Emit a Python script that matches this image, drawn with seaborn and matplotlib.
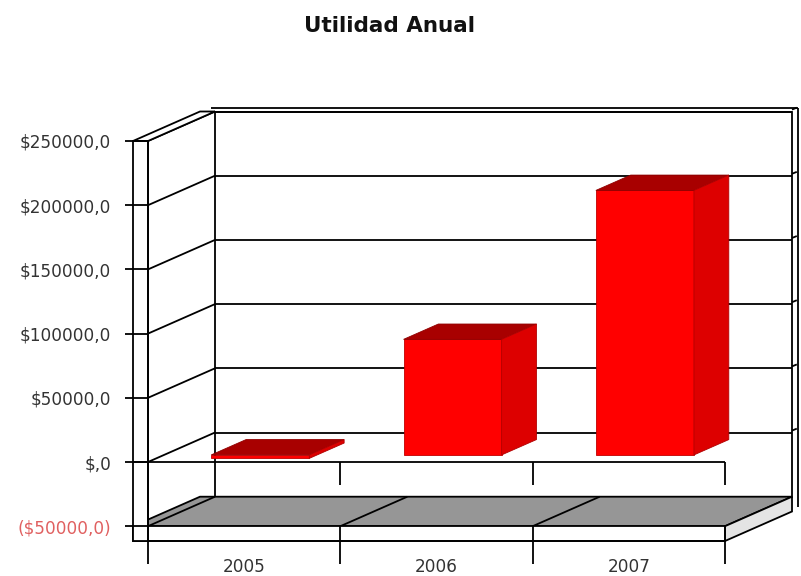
import numpy as np
import pandas as pd
import matplotlib
matplotlib.use("Agg")
import matplotlib.pyplot as plt
import seaborn as sns
from matplotlib.patches import Polygon
from matplotlib.transforms import Affine2D

# ---------------- data ----------------
years = ["2005", "2006", "2007"]
utilidad = [-2700, 90000, 206000]
y_ticks = [-50000, 0, 50000, 100000, 150000, 200000, 250000]
y_tick_labels = ["($50000,0)", "$,0", "$50000,0", "$100000,0",
                 "$150000,0", "$200000,0", "$250000,0"]
title = "Utilidad Anual"

# ---------------- style ----------------
sns.set_style("white")
plt.rcParams["font.family"] = ["DejaVu Sans"]

W, H = 801, 576
fig = plt.figure(figsize=(W / 100, H / 100), dpi=100)
fig.patch.set_facecolor("white")

# front-plane geometry (pixels)
ax_l, ax_r, ax_t, ax_b = 148, 725, 141, 541
zero_px = 462
ax = fig.add_axes([ax_l / W, (H - ax_b) / H, (ax_r - ax_l) / W, (ax_b - ax_t) / H])

YMAX = y_ticks[-1]
px_per_unit = (zero_px - ax_t) / YMAX
YMIN = -(ax_b - zero_px) / px_per_unit
cat_px = (ax_r - ax_l) / len(years)

DX = 67 / cat_px            # depth offset in category units
DY = 29.5 / px_per_unit     # depth offset in value units
WALL = 15 / cat_px          # wall thickness
TK = 23 / px_per_unit       # tick length in value units
FLOOR = y_ticks[0]

df = pd.DataFrame({"Año": years, "Utilidad": utilidad})
sns.barplot(data=df, x="Año", y="Utilidad", color="#FF0000", saturation=1,
            width=0.51, ax=ax, zorder=6, edgecolor="#C00000", linewidth=0.6)
bars = list(ax.patches)

ax.set_xlim(-0.5, len(years) - 0.5)
ax.set_ylim(YMIN, YMAX)
X0, X1 = -0.5, len(years) - 0.5

LC = "black"
LW = 1.3

def poly(pts, fc, ec=LC, lw=LW, z=1):
    ax.add_patch(Polygon(pts, closed=True, facecolor=fc, edgecolor=ec,
                         linewidth=lw, zorder=z, clip_on=False))

def line(xs, ys, z=2, lw=LW, c=LC):
    ax.plot(xs, ys, color=c, lw=lw, zorder=z, clip_on=False,
            solid_capstyle="butt")

# back wall
poly([(X0 + DX, FLOOR + DY), (X1 + DX, FLOOR + DY),
      (X1 + DX, YMAX + DY), (X0 + DX, YMAX + DY)], "white", z=0.5)
line([X0 + DX - WALL * 0.3, X1 + DX + 0.03], [YMAX + DY + 2600] * 2, z=0.6)
for v in y_ticks[1:]:
    line([X0 + DX, X1 + DX], [v + DY, v + DY], z=0.7)
    line([X1 + DX, X1 + DX + 0.025], [v + DY + 1500, v + DY + 3000], z=0.7)
    # left wall gridlines
    line([X0, X0 + DX], [v, v + DY], z=0.7)
line([X1 + DX + 0.03] * 2, [FLOOR + DY - 8000, YMAX + DY + 2600], z=0.6)

# left wall top (thickness)
poly([(X0 - WALL, YMAX), (X0, YMAX), (X0 + DX, YMAX + DY),
      (X0 - WALL + DX, YMAX + DY)], "white", z=0.8)

# floor top face
poly([(X0 - WALL, FLOOR), (X1, FLOOR), (X1 + DX, FLOOR + DY),
      (X0 - WALL + DX, FLOOR + DY)], "#969696", z=1)
for b in np.arange(X0, X1, 1.0):
    line([b, b + DX], [FLOOR, FLOOR + DY], z=1.1)
# floor right side
poly([(X1, FLOOR), (X1, YMIN), (X1 + DX, YMIN + DY), (X1 + DX, FLOOR + DY)],
     "#E4E4E4", z=1)
# floor front face
poly([(X0 - WALL, FLOOR), (X1, FLOOR), (X1, YMIN), (X0 - WALL, YMIN)],
     "white", z=1.2)
# left wall front face
poly([(X0 - WALL, YMIN), (X0, YMIN), (X0, YMAX), (X0 - WALL, YMAX)],
     "white", z=1.2)

# front zero line with category ticks
line([X0 - WALL, X1], [0, 0], z=1.5)
for b in np.arange(X0 + 1, X1 + 0.5, 1.0):
    line([b, b], [0, -TK], z=1.5)
    line([b, b], [FLOOR, YMIN], z=1.5)

# 3D bars
F0, FD = 0.24, 0.52
for p in bars:
    x0, w = p.get_x(), p.get_width()
    y0, h = p.get_y(), p.get_height()
    bot, top = min(y0, y0 + h), max(y0, y0 + h)
    ox, oy = F0 * DX, F0 * DY
    p.set_transform(Affine2D().translate(ox, oy) + ax.transData)
    ddx, ddy = FD * DX, FD * DY
    xl, xr = x0 + ox, x0 + w + ox
    poly([(xl, top + oy), (xr, top + oy), (xr + ddx, top + oy + ddy),
          (xl + ddx, top + oy + ddy)], "#A80000", ec="#900000", lw=0.6, z=6)
    poly([(xr, bot + oy), (xr, top + oy), (xr + ddx, top + oy + ddy),
          (xr + ddx, bot + oy + ddy)], "#DD0000", ec="#B00000", lw=0.6, z=6)

# axes decoration
for s in ["top", "right"]:
    ax.spines[s].set_visible(False)
for s in ["left", "bottom"]:
    ax.spines[s].set_color(LC)
    ax.spines[s].set_linewidth(LW)
    ax.spines[s].set_zorder(3)
ax.set_axisbelow(False)
ax.patch.set_alpha(0)

ax.set_yticks(y_ticks)
ax.set_yticklabels(y_tick_labels)
ax.tick_params(axis="y", left=True, direction="out", length=16.6, width=LW,
               pad=10, labelsize=12.2, labelcolor="#333333", color=LC)
for t, v in zip(ax.get_yticklabels(), y_ticks):
    if v < 0:
        t.set_color("#E06060")

ax.set_xticks(np.arange(X0, X1 + 0.5, 1.0))
ax.set_xticklabels([])
ax.set_xticks(range(len(years)), minor=True)
ax.set_xticklabels(years, minor=True)
ax.tick_params(axis="x", which="major", bottom=True, direction="out",
               length=16.6, width=LW, color=LC)
ax.tick_params(axis="x", which="minor", bottom=True, length=0, pad=12,
               labelsize=12.2, labelcolor="#333333")
ax.set_xlabel("")
ax.set_ylabel("")

fig.text(390 / W, 1 - 26 / H, title, ha="center", va="center",
         fontsize=15.5, fontweight="bold", color="#111111")

fig.savefig("out.png", dpi=100, facecolor="white")
